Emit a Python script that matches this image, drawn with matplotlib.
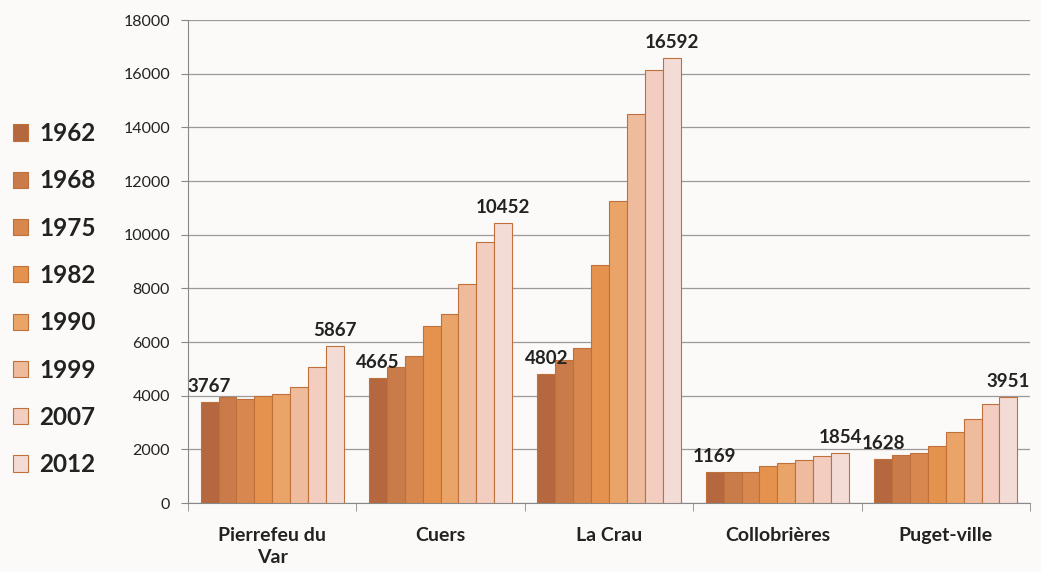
import numpy as np
import matplotlib.pyplot as plt
from matplotlib.patches import Patch

# communes et recensements
communes = ["Pierrefeu du\nVar", "Cuers", "La Crau", "Collobrières", "Puget-ville"]
annees = ["1962", "1968", "1975", "1982", "1990", "1999", "2007", "2012"]

pierrefeu = [3767, 3940, 3880, 3975, 4050, 4335, 5080, 5867]
cuers = [4665, 5080, 5470, 6585, 7045, 8175, 9730, 10452]
la_crau = [4802, 5330, 5780, 8880, 11255, 14490, 16130, 16592]
collobrieres = [1169, 1169, 1140, 1365, 1480, 1615, 1765, 1854]
puget = [1628, 1775, 1860, 2135, 2635, 3120, 3675, 3951]

couleurs = ["#b5683f", "#c97b4a", "#d8884e", "#e6924f", "#eba468",
            "#efbb9d", "#f2cdc0", "#f4dcd6"]
bord = "#c0703a"

valeurs = np.array([pierrefeu, cuers, la_crau, collobrieres, puget])

plt.rcParams['font.family'] = ['Lato', 'DejaVu Sans']

fig = plt.figure(figsize=(10.41, 5.72), dpi=100)
fig.patch.set_facecolor("#fbfaf8")
ax = fig.add_axes([0.1806, 0.1206, 0.8088, 0.8444])
ax.set_facecolor("#fbfaf8")

n = len(annees)
largeur = 0.85 / n
x = np.arange(len(communes))
for j in range(n):
    pos = x - 0.425 + largeur * (j + 0.5)
    ax.bar(pos, valeurs[:, j], width=largeur, color=couleurs[j],
           edgecolor=bord, linewidth=0.8, zorder=3)

# étiquettes premier et dernier recensement
for i in range(len(communes)):
    for j in (0, n - 1):
        pos = x[i] - 0.425 + largeur * (j + 0.5)
        ax.annotate(str(valeurs[i, j]), (pos, valeurs[i, j]),
                    xytext=(0, 5), textcoords="offset points",
                    ha="center", va="bottom", fontsize=13.5,
                    fontweight="bold", color="#222222", zorder=4)

ax.set_ylim(0, 18000)
ax.set_yticks(range(0, 18001, 2000))
ax.set_xlim(-0.5, len(communes) - 0.5)
ax.set_xticks(x)
ax.set_xticklabels(communes, fontsize=14, fontweight="bold",
                   color="#222222", va="top", linespacing=1.4)
ax.set_xticks(np.arange(-0.5, len(communes)), minor=True)
ax.tick_params(axis="x", which="major", length=0, pad=17)
ax.tick_params(axis="x", which="minor", length=6, color="#888888")
ax.tick_params(axis="y", labelsize=11.5, colors="#222222", length=5,
               color="#888888", pad=8)
ax.yaxis.grid(True, color="#9a9a9a", linewidth=0.9, zorder=0)
for s in ("top", "right"):
    ax.spines[s].set_visible(False)
ax.spines["left"].set_color("#888888")
ax.spines["bottom"].set_color("#888888")

handles = [Patch(facecolor=c, edgecolor=bord, linewidth=0.8) for c in couleurs]
fig.legend(handles, annees, loc="upper left", bbox_to_anchor=(-0.009, 0.825),
           frameon=False, prop={"size": 17.5, "weight": "bold"},
           handlelength=0.65, handleheight=0.65, handletextpad=0.45,
           labelspacing=1.0, labelcolor="#222222")

fig.savefig("out.png", dpi=100, facecolor=fig.get_facecolor())
